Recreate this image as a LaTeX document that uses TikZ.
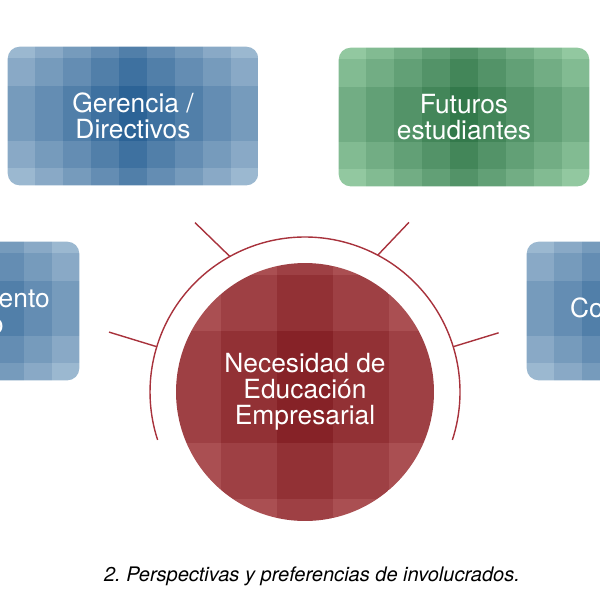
\documentclass[tikz,border=0pt]{standalone}
\usepackage{fontspec}
\setmainfont{TeX Gyre Heros}
\usetikzlibrary{calc, backgrounds}
\definecolor{blueDark}{HTML}{2C6396}
\definecolor{blueLight}{HTML}{A0BBD2}
\definecolor{greenDark}{HTML}{33794B}
\definecolor{greenLight}{HTML}{96CBA4}
\definecolor{redDark}{HTML}{862227}
\definecolor{redLight}{HTML}{B65E60}
\definecolor{rayRed}{HTML}{A8323C}
\tikzstyle{stake} = [rectangle, minimum width=5cm, minimum height=2.76cm, inner sep=0pt, text centered, align=center, text=white, font=\fontsize{15}{14.8}\selectfont]
\tikzstyle{core} = [circle, minimum size=5.16cm, inner sep=0pt, text centered, align=center, text=white, font=\fontsize{15}{14.8}\selectfont]
\tikzstyle{ray} = [line width=0.8pt, draw=rayRed]

\begin{document}
\begin{tikzpicture}[x=0.02cm, y=-0.02cm]

\useasboundingbox (0,0) rectangle (600,600);
\clip (0,0) rectangle (600,600);

\node at (133, 116) (gerencia) [stake] {Gerencia /\\Directivos};
\node at (464, 117) (futuros) [stake] {Futuros\\estudiantes};
\node at (-46, 311) (emprend) [stake] {Emprendimiento\\Humano};
\node at (652, 311) (compet) [stake] {Competidores};
\node at (305, 392) (necesidad) [core] {Necesidad de\\Educación\\Empresarial};

% tiled fills
\begin{scope}[on background layer]
\foreach \bx/\dk/\lite in {gerencia/blueDark/blueLight, futuros/greenDark/greenLight, emprend/blueDark/blueLight, compet/blueDark/blueLight} {
  \begin{scope}
  \clip[rounded corners=0.24cm] (\bx.south west) rectangle (\bx.north east);
  \foreach \i in {-4,...,4} \foreach \j in {-3,...,2} {
    \pgfmathtruncatemacro\pct{100-16*(abs(\i)+abs(\j+0.5)-0.5)}
    \fill[\dk!\pct!\lite] ($(\bx.center)+(\i*28-14, \j*27.5-3)$) rectangle +(28,27.5);
  }
  \end{scope}
}
\begin{scope}
\clip (necesidad.center) circle[radius=2.58cm];
\foreach \i in {-2,...,2} \foreach \j in {-3,...,2} {
  \pgfmathtruncatemacro\pct{100-25*(abs(\i)+abs(\j+0.5)-0.5)}
  \fill[redDark!\pct!redLight] ($(necesidad.center)+(\i*56-28, \j*56-5)$) rectangle +(56,56);
}
\end{scope}
\end{scope}

% arc and rays
\draw[ray] ($(necesidad.center)+(-18:3.1cm)$) arc[start angle=-18, end angle=198, radius=3.1cm];
\draw[ray] ($(necesidad.center)+(163:3.1cm)$) -- ($(necesidad.center)+(163:4.1cm)$);
\draw[ray] ($(necesidad.center)+(119:3.1cm)$) -- ($(necesidad.center)+(123:4.04cm)$);
\draw[ray] ($(necesidad.center)+(62:3.1cm)$) -- ($(necesidad.center)+(58.5:3.98cm)$);
\draw[ray] ($(necesidad.center)+(17:3.1cm)$) -- ($(necesidad.center)+(17:4.05cm)$);

\node at (312, 576) (caption) [font=\fontsize{11.4}{13}\selectfont\itshape] {2.\ Perspectivas y preferencias de involucrados.};

\end{tikzpicture}
\end{document}
